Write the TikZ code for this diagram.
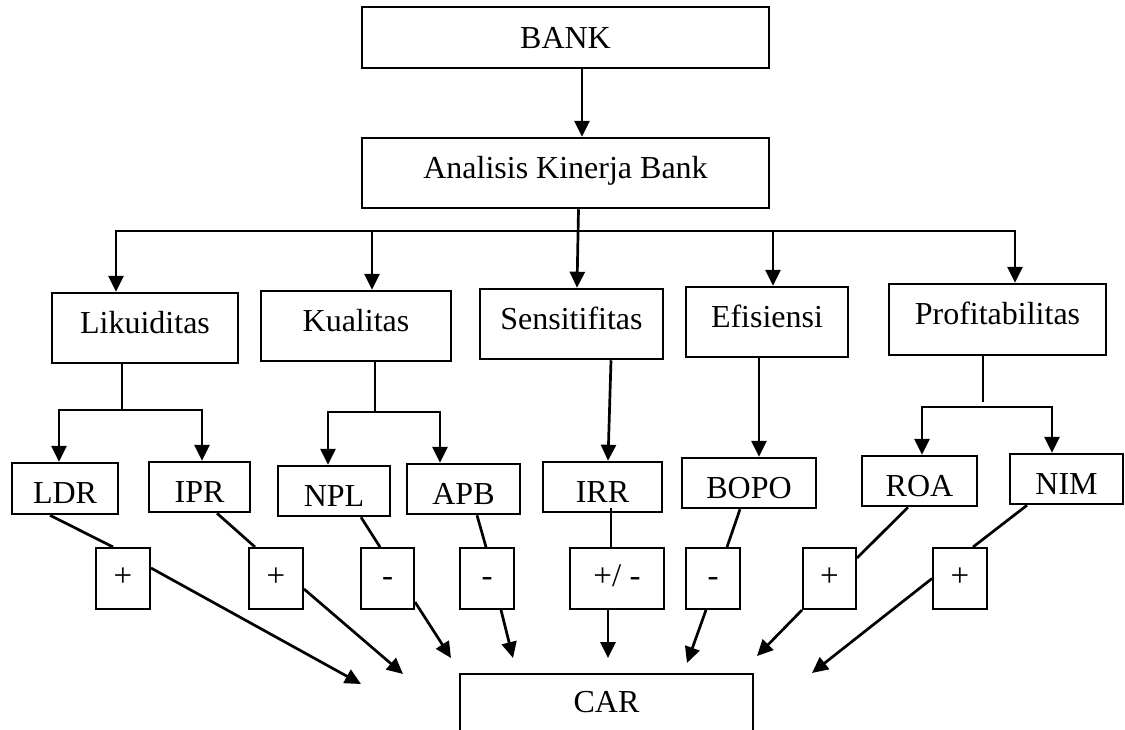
\documentclass[tikz,border=0pt]{standalone}
\usepackage{fontspec}
\setmainfont{Liberation Serif}
\usetikzlibrary{arrows.meta}
\tikzset{
  box/.style={draw, line width=2.5pt, inner sep=0pt, align=center,
    text height=21pt, text depth=11pt, font=\fontsize{32}{38}\selectfont},
  topbox/.style={box, text height=21pt, text depth=0pt},
  ratiobox/.style={box, text height=30pt, text depth=0pt},
  signbox/.style={box, line width=2pt, text height=19pt, text depth=3pt, font=\fontsize{33}{38}\selectfont},
  conn/.style={line width=2.7pt},
  arr/.style={conn, -{Triangle[width=15pt,length=16pt]}},
}
\begin{document}
\begin{tikzpicture}[x=1pt,y=-1pt]
\useasboundingbox (0,0) rectangle (1125,729);
\clip (0,0) rectangle (1125,729);
% top
\node[topbox, minimum width=407pt, minimum height=61pt] (bank) at (565.5,37.5) {BANK};
\node[box, minimum width=407pt, minimum height=70pt] (akb) at (565.5,173) {Analisis Kinerja Bank};
% level 1
\node[box, minimum width=186pt, minimum height=70pt] (lik) at (145,328) {Likuiditas};
\node[box, minimum width=190pt, minimum height=70pt] (kual) at (356,326) {Kualitas};
\node[box, minimum width=183pt, minimum height=70pt] (sens) at (571.5,324) {Sensitifitas};
\node[box, minimum width=162pt, minimum height=70pt] (efi) at (767,322) {Efisiensi};
\node[box, minimum width=217pt, minimum height=71pt] (prof) at (997.5,319.5) {Profitabilitas};
% level 2
\node[ratiobox, minimum width=106pt, minimum height=51pt] (ldr) at (65,488.5) {LDR};
\node[ratiobox, minimum width=101pt, minimum height=50pt] (ipr) at (199.5,487) {IPR};
\node[ratiobox, minimum width=112pt, minimum height=50pt] (npl) at (334,491) {NPL};
\node[ratiobox, minimum width=113pt, minimum height=50pt] (apb) at (463.5,489) {APB};
\node[ratiobox, minimum width=119pt, minimum height=50pt] (irr) at (602.5,487) {IRR};
\node[ratiobox, minimum width=134pt, minimum height=50pt] (bopo) at (749,483) {BOPO};
\node[ratiobox, minimum width=115pt, minimum height=50pt] (roa) at (919.5,481) {ROA};
\node[ratiobox, minimum width=113pt, minimum height=50pt] (nim) at (1066.5,479) {NIM};
% sign boxes
\node[signbox, minimum width=54pt, minimum height=61pt] (s1) at (123,578.5) {+};
\node[signbox, minimum width=54pt, minimum height=61pt] (s2) at (276,578.5) {+};
\node[signbox, minimum width=53pt, minimum height=61pt] (s3) at (387.5,578.5) {-};
\node[signbox, minimum width=54pt, minimum height=61pt] (s4) at (487,578.5) {-};
\node[signbox, minimum width=94pt, minimum height=61pt] (s5) at (617,578.5) {+/ -};
\node[signbox, minimum width=54pt, minimum height=61pt] (s6) at (713,578.5) {-};
\node[signbox, minimum width=53pt, minimum height=61pt] (s7) at (829.5,578.5) {+};
\node[signbox, minimum width=54pt, minimum height=61pt] (s8) at (960,578.5) {+};
% CAR
\node[box, minimum width=293pt, minimum height=66pt] (car) at (606.5,707) {CAR};

% BANK -> Analisis
\draw[arr] ([xshift=16.5pt]bank.south) -- ([xshift=16.5pt]akb.north);
% Analisis -> level 1
\coordinate (hb) at (578,231);
\coordinate (la) at ([xshift=-29pt]lik.north);
\coordinate (ka) at ([xshift=16pt]kual.north);
\coordinate (ea) at ([xshift=6pt]efi.north);
\coordinate (pa) at ([xshift=17.5pt]prof.north);
\draw[arr] (hb) -| (la);
\draw[arr] (hb) -| (ka);
\draw[arr] (hb) -| (ea);
\draw[arr] (hb) -| (pa);
\draw[arr] ([xshift=13pt]akb.south) -- ([xshift=5.5pt]sens.north);

% Likuiditas -> LDR, IPR
\coordinate (lb) at (122,410);
\draw[conn] (lik.south -| lb) -- (lb);
\draw[arr] (lb) -| ([xshift=-6pt]ldr.north);
\draw[arr] (lb) -| ([xshift=2.5pt]ipr.north);
% Kualitas -> NPL, APB
\coordinate (kb) at (375,412);
\draw[conn] (kual.south -| kb) -- (kb);
\draw[arr] (kb) -| ([xshift=-6pt]npl.north);
\draw[arr] (kb) -| ([xshift=-23.5pt]apb.north);
% Sensitifitas -> IRR
\draw[arr] ([xshift=39.5pt]sens.south) -- ([xshift=5.5pt]irr.north);
% Efisiensi -> BOPO
\draw[arr] ([xshift=-8pt]efi.south) -- ([xshift=10pt]bopo.north);
% Profitabilitas -> ROA, NIM
\coordinate (pb) at (983,407);
\coordinate (pgap) at (983,402);
\draw[conn] (prof.south -| pgap) -- (pgap);
\draw[arr] (pb) -| ([xshift=2.5pt]roa.north);
\draw[arr] (pb) -| ([xshift=-14.5pt]nim.north);

% free arrow ends near CAR
\coordinate (t1) at (361,684);
\coordinate (t2) at (403,674);
\coordinate (t3) at (451,658);
\coordinate (t4) at (513,658);
\coordinate (t5) at (608,658);
\coordinate (t6) at (687,663);
\coordinate (t7) at (757,656);
\coordinate (t8) at (812,673);

% ratios -> signs -> CAR
\draw[conn] ([xshift=-15pt]ldr.south) -- ([xshift=-10pt]s1.north);
\draw[arr] ([yshift=10.5pt]s1.east) -- (t1);
\draw[conn] ([xshift=17.5pt]ipr.south) -- ([xshift=-21pt]s2.north);
\draw[arr] ([yshift=-10.5pt]s2.east) -- (t2);
\draw[conn] ([xshift=27pt]npl.south) -- ([xshift=-7.5pt]s3.north);
\draw[arr] ([yshift=-23.5pt]s3.east) -- (t3);
\draw[conn] ([xshift=13.5pt]apb.south) -- ([xshift=-1pt]s4.north);
\draw[arr] ([xshift=14pt]s4.south) -- (t4);
\draw[conn] ([xshift=8.5pt,yshift=5pt]irr.south) -- ([xshift=-6pt]s5.north);
\draw[arr] ([xshift=-9pt]s5.south) -- (t5);
\draw[conn] ([xshift=-9pt]bopo.south) -- ([xshift=14pt]s6.north);
\draw[arr] ([xshift=-7pt]s6.south) -- (t6);
\draw[conn] ([xshift=-11.5pt]roa.south) -- ([yshift=20.5pt]s7.east);
\draw[arr] (s7.south west) -- (t7);
\draw[conn] ([xshift=-39.5pt]nim.south) -- ([xshift=13pt]s8.north);
\draw[arr] (s8.west) -- (t8);
\end{tikzpicture}
\end{document}
